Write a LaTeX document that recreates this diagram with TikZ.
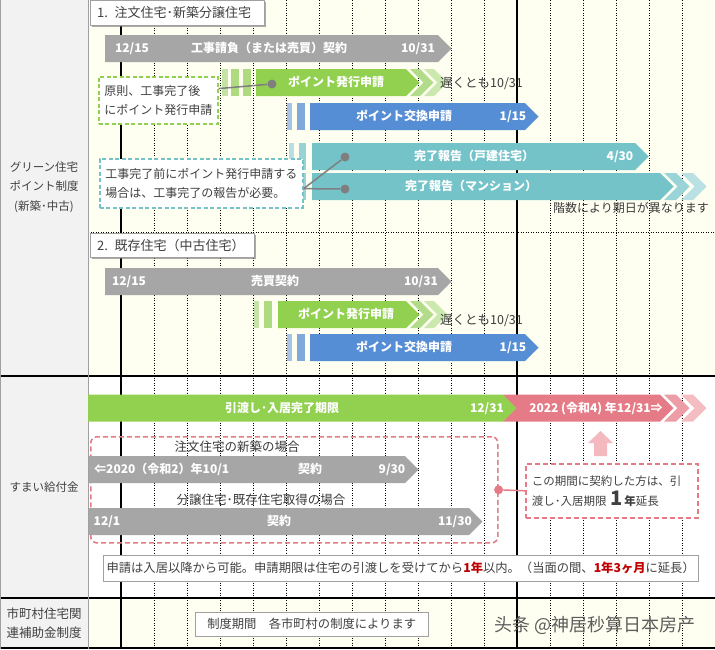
\documentclass[tikz,border=0pt]{standalone}
\usepackage{fontspec}
\setmainfont{Noto Sans CJK JP}
\newfontfamily\cjksc{Noto Sans CJK SC}
\usetikzlibrary{shadows}

\definecolor{bgyellow}{HTML}{FEFFF0}
\definecolor{leftgrey}{HTML}{F2F2F2}
\definecolor{textgrey}{HTML}{404040}
\definecolor{sidegrey}{HTML}{A0A0A0}
\definecolor{greybar}{HTML}{A6A6A6}
\definecolor{greenbar}{HTML}{92D050}
\definecolor{greenS1}{HTML}{C6E3A6}
\definecolor{greenS2}{HTML}{AEDA80}
\definecolor{greenC1}{HTML}{B3DC8A}
\definecolor{greenC2}{HTML}{CBE8AE}
\definecolor{bluebar}{HTML}{558ED5}
\definecolor{blueS1}{HTML}{A7C4E6}
\definecolor{blueS2}{HTML}{80A8DC}
\definecolor{tealbar}{HTML}{74C3C9}
\definecolor{tealS1}{HTML}{B7DEE0}
\definecolor{tealS2}{HTML}{98D2D6}
\definecolor{tealC1}{HTML}{9BD4D8}
\definecolor{tealC2}{HTML}{B9E1E3}
\definecolor{pinkbar}{HTML}{E47B86}
\definecolor{pinkC1}{HTML}{EC9DA5}
\definecolor{pinkC2}{HTML}{F3BDC2}
\definecolor{pinkarrow}{HTML}{F4B9BF}
\definecolor{darkred}{HTML}{C00000}
\definecolor{dotgrey}{HTML}{7F7F7F}

\begin{document}
\begin{tikzpicture}[x=1pt, y=-1pt, font=\fontsize{12}{14}\selectfont]

\tikzstyle{gridline} = [black, line width=0.8pt, dash pattern=on 1pt off 1.5pt]
\tikzstyle{yearline} = [black, line width=1.6pt]
\tikzstyle{rowline} = [black, line width=1.2pt]
\tikzstyle{bartext} = [text=white, font=\fontsize{12}{14}\selectfont\bfseries, inner sep=0, text height=10pt, text depth=1.5pt]
\tikzstyle{plain} = [text=textgrey!90!black, inner sep=0, text height=10pt, text depth=1.5pt, font=\fontsize{12.5}{14}\selectfont]
\tikzstyle{sidetext} = [text=textgrey, align=center, inner sep=0, font=\fontsize{11.5}{19.5}\selectfont]
\tikzstyle{secbox} = [draw=sidegrey, fill=white, text=textgrey, anchor=north west, align=left, inner xsep=7pt, font=\fontsize{13}{14}\selectfont, drop shadow={shadow xshift=2pt, shadow yshift=-2pt, opacity=0.6, fill=black!55}]
\tikzstyle{callout} = [fill=white, text=textgrey, align=left, anchor=north west, line width=1.6pt, dash pattern=on 4pt off 2.5pt, font=\fontsize{12}{18.5}\selectfont]
\tikzstyle{notebox} = [draw=sidegrey, fill=white, text=textgrey, anchor=north west, font=\fontsize{12.3}{14}\selectfont]
\tikzstyle{dot} = [circle, fill=dotgrey, inner sep=0, minimum size=9pt]

\useasboundingbox (0,0) rectangle (715,649);

% background and grid
\fill[leftgrey] (0,0) rectangle (88,649);
\fill[bgyellow] (88,0) rectangle (715,376);
\fill[white] (88,376) rectangle (715,598);
\fill[bgyellow] (88,598) rectangle (715,649);
\foreach \k in {0,...,16}
  \draw[gridline] ({154+33*\k},0) -- ({154+33*\k},649);
\draw[gridline] (88,232) -- (715,232);
\draw[yearline] (121,0) -- (121,649);
\draw[yearline] (517,0) -- (517,649);
\foreach \y in {376,598,648}
  \draw[rowline] (0,\y) -- (715,\y);
\draw[sidegrey, line width=1pt] (88,0) -- (88,649);
\draw[sidegrey, line width=1pt] (0.5,0) -- (0.5,649);

% side labels
\node[sidetext] (lab1) at (44,187) {グリーン住宅\\ポイント制度\\(新築･中古)};
\node[sidetext] (lab2) at (44,487) {すまい給付金};
\node[sidetext, font=\fontsize{12.5}{19}\selectfont] (lab3) at (44,623.5) {市町村住宅関\\連補助金制度};

% 1. new houses
\node[secbox, text width=160, minimum height=25] (sec1) at (90,0) {1.\enspace 注文住宅･新築分譲住宅};

\fill[greybar] (105,35) -- (438,35) -- ++(13.5,13.5) -- ++(-13.5,13.5) -- (105,62) -- cycle;
\node[bartext] (c1from) at (132,48.5) {12/15};
\node[bartext] (c1name) at (269,48.5) {工事請負（または売買）契約};
\node[bartext] (c1to) at (418,48.5) {10/31};

\foreach \a/\b/\c in {222/228/greenS1, 231/239/greenS2, 243/251/greenS2}
  \fill[\c] (\a,69) rectangle (\b,96);
\fill[greenbar] (256,69) -- (406,69) -- ++(13.5,13.5) -- ++(-13.5,13.5) -- (256,96) -- cycle;
\foreach \a/\c in {410/greenC1, 424/greenC2}
  \fill[\c] (\a,69) -- ++(10,0) -- ++(13.5,13.5) -- ++(-13.5,13.5) -- ++(-10,0) -- ++(13.5,-13.5) -- cycle;
\node[bartext] (g1name) at (336,82.5) {ポイント発行申請};
\node[plain, anchor=west] (g1late) at (440,83) {遅くとも10/31};

\foreach \a/\b/\c in {287/292/blueS1, 297/305/blueS2}
  \fill[\c] (\a,103) rectangle (\b,130);
\fill[bluebar] (310,103) -- (525,103) -- ++(13.5,13.5) -- ++(-13.5,13.5) -- (310,130) -- cycle;
\node[bartext] (b1name) at (404,116.5) {ポイント交換申請};
\node[bartext] (b1to) at (513,116.5) {1/15};

\foreach \a/\b/\c in {289/294/tealS1, 299/306/tealS2} {
  \fill[\c] (\a,143) rectangle (\b,170);
  \fill[\c] (\a,173) rectangle (\b,200);
}
\fill[tealbar] (312,143) -- (635,143) -- ++(13.5,13.5) -- ++(-13.5,13.5) -- (312,170) -- cycle;
\node[bartext] (t1name) at (474,156.5) {完了報告（戸建住宅）};
\node[bartext] (t1to) at (620,156.5) {4/30};
\fill[tealbar] (312,173) -- (660,173) -- ++(13.5,13.5) -- ++(-13.5,13.5) -- (312,200) -- cycle;
\foreach \a/\c in {664/tealC1, 681/tealC2}
  \fill[\c] (\a,173) -- ++(12,0) -- ++(13.5,13.5) -- ++(-13.5,13.5) -- ++(-12,0) -- ++(13.5,-13.5) -- cycle;
\node[bartext] (t2name) at (471,186.5) {完了報告（マンション）};
\node[plain, anchor=east, font=\fontsize{12}{14}\selectfont] (t2note) at (709,208) {階数により期日が異なります};

\node[callout, draw=greenbar, minimum width=119, minimum height=47] (note1) at (98,76) {原則、工事完了後\\にポイント発行申請};
\node[dot] (dot1) at (272,84) {};
\draw[dotgrey, line width=1.5pt] (note1.11) -- (dot1);

\node[callout, draw=tealbar, minimum width=203, minimum height=49] (note2) at (99,158) {工事完了前にポイント発行申請する\\場合は、工事完了の報告が必要。};
\node[dot] (dot2) at (345,157) {};
\node[dot] (dot3) at (345,189) {};
\draw[dotgrey, line width=1.5pt] (note2.-3) -- (dot2);
\draw[dotgrey, line width=1.5pt] (note2.-3) -- (dot3);

% 2. existing houses
\node[secbox, text width=150, minimum height=24] (sec2) at (90,233) {2.\enspace 既存住宅（中古住宅）};

\fill[greybar] (105,268) -- (438,268) -- ++(13.5,13.5) -- ++(-13.5,13.5) -- (105,295) -- cycle;
\node[bartext] (c2from) at (129,281.5) {12/15};
\node[bartext] (c2name) at (275,281.5) {売買契約};
\node[bartext] (c2to) at (421,281.5) {10/31};

\foreach \a/\b/\c in {254/259/greenS1, 264/272/greenS2}
  \fill[\c] (\a,301) rectangle (\b,328);
\fill[greenbar] (278,301) -- (406,301) -- ++(13.5,13.5) -- ++(-13.5,13.5) -- (278,328) -- cycle;
\foreach \a/\c in {410/greenC1, 424/greenC2}
  \fill[\c] (\a,301) -- ++(10,0) -- ++(13.5,13.5) -- ++(-13.5,13.5) -- ++(-10,0) -- ++(13.5,-13.5) -- cycle;
\node[bartext] (g2name) at (346,314.5) {ポイント発行申請};
\node[plain, anchor=west] (g2late) at (440,320) {遅くとも10/31};

\foreach \a/\b/\c in {287/292/blueS1, 297/305/blueS2}
  \fill[\c] (\a,334) rectangle (\b,361);
\fill[bluebar] (310,334) -- (525,334) -- ++(13.5,13.5) -- ++(-13.5,13.5) -- (310,361) -- cycle;
\node[bartext] (b2name) at (404,347.5) {ポイント交換申請};
\node[bartext] (b2to) at (513,347.5) {1/15};

% sumai kyufukin
\fill[pinkbar] (503,394.5) -- (660,394.5) -- ++(13.5,13.5) -- ++(-13.5,13.5) -- (503,421.5) -- cycle;
\foreach \a/\c in {664/pinkC1, 681/pinkC2}
  \fill[\c] (\a,394.5) -- ++(12,0) -- ++(13.5,13.5) -- ++(-13.5,13.5) -- ++(-12,0) -- ++(13.5,-13.5) -- cycle;
\fill[greenbar] (88,394.5) -- (503,394.5) -- ++(13.5,13.5) -- ++(-13.5,13.5) -- (88,421.5) -- cycle;
\node[bartext] (g3name) at (282,408) {引渡し･入居完了期限};
\node[bartext] (g3to) at (487,408) {12/31};
\node[bartext] (p3name) at (596,408) {2022 (令和4) 年12/31⇒};
\fill[pinkarrow] (594,456) -- (594,443) -- (588,443) -- (600.5,431) -- (613,443) -- (607,443) -- (607,456) -- cycle;

\node[draw=pinkbar, line width=1.6pt, dash pattern=on 5pt off 3pt, rounded corners=6pt, minimum width=407, minimum height=106, anchor=north west] (frame) at (90,436) {};
\node[plain] (case1) at (237,447) {注文住宅の新築の場合};
\fill[greybar] (89,456) -- (405,456) -- ++(13.5,13.5) -- ++(-13.5,13.5) -- (89,483) -- cycle;
\node[bartext, anchor=west] (c3from) at (94,469.5) {⇐2020（令和2）年10/1};
\node[bartext] (c3name) at (310,469.5) {契約};
\node[bartext] (c3to) at (392,469.5) {9/30};
\node[plain] (case2) at (261,500) {分譲住宅･既存住宅取得の場合};
\fill[greybar] (89,508) -- (469,508) -- ++(13.5,13.5) -- ++(-13.5,13.5) -- (89,535) -- cycle;
\node[bartext] (c4from) at (107,521.5) {12/1};
\node[bartext] (c4name) at (279,521.5) {契約};
\node[bartext] (c4to) at (455,521.5) {11/30};

\node[callout, draw=pinkbar, dash pattern=on 5pt off 3pt, text width=160, inner xsep=6pt, minimum height=54, font=\fontsize{11.5}{20}\selectfont] (note3) at (525,463) {この期間に契約した方は、引\\渡し･入居期限 {\fontsize{20}{20}\selectfont\bfseries 1}\,{\bfseries 年}延長};
\node[circle, fill=pinkbar, inner sep=0, minimum size=9pt] (dot4) at (frame.east) {};
\draw[pinkbar, line width=1.5pt] (dot4) -- (note3.west);

\node[notebox, minimum width=595, minimum height=26] (note4) at (103,555) {申請は入居以降から可能。申請期限は住宅の引渡しを受けてから{\color{darkred}\bfseries 1年}以内。（当面の間、{\color{darkred}\bfseries 1年3ヶ月}に延長）};

% municipal subsidies
\node[notebox, minimum width=233, minimum height=24] (period) at (195,612) {制度期間\quad 各市町村の制度によります};
\node[text=textgrey!85, anchor=west, inner sep=0, font=\cjksc\fontsize{18}{20}\selectfont] (mark) at (494,625) {头条 @神居秒算日本房产};

\end{tikzpicture}
\end{document}
